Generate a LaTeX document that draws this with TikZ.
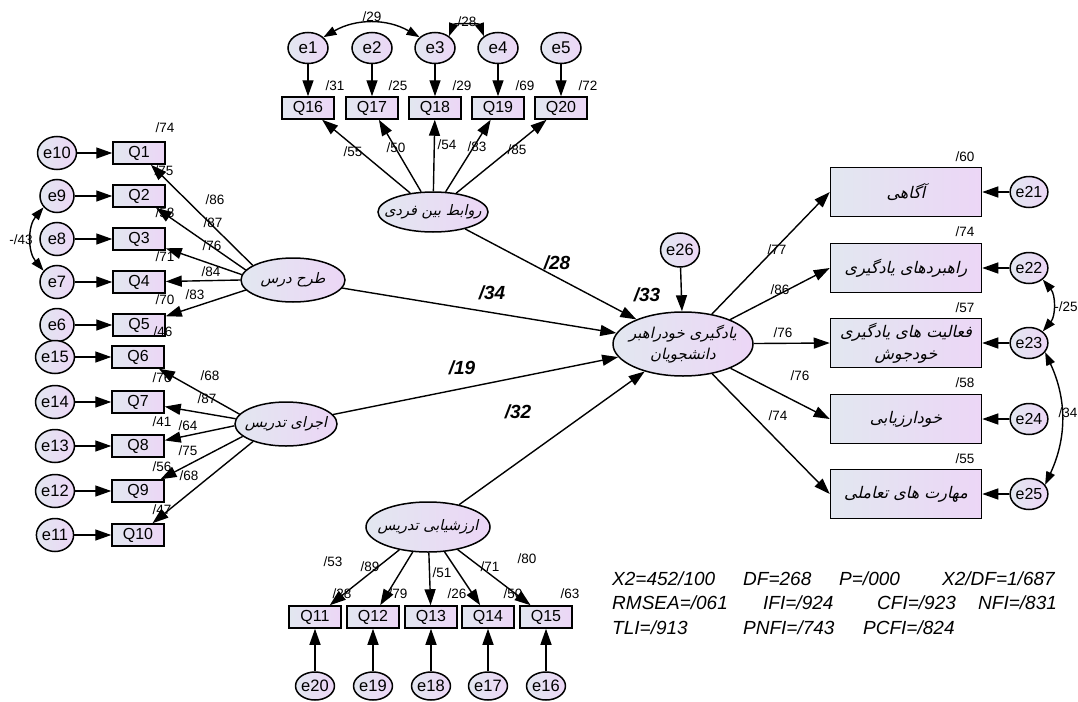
\documentclass[tikz,border=0pt]{standalone}
\usepackage{fontspec}
\setmainfont{Liberation Sans}
\newfontfamily\fa[Script=Arabic,FakeSlant=0.22]{DejaVu Sans}
\TeXXeTstate=1
\usetikzlibrary{arrows.meta,shapes.geometric}
\definecolor{gL}{RGB}{226,231,240}
\definecolor{gR}{RGB}{236,214,246}
\tikzset{
 fillg/.style={left color=gL,right color=gR},
 lat/.style={ellipse,draw,line width=1.5pt,fillg,inner xsep=-25pt,inner ysep=-12pt,font=\fa\fontsize{14.5}{20}\selectfont},
 obs/.style={rectangle,draw,line width=1.5pt,fillg,inner sep=0pt,minimum width=52pt,minimum height=22pt,font=\fontsize{16}{16}\selectfont},
 rbox/.style={rectangle,draw,line width=1.5pt,fillg,inner sep=0pt,minimum width=151pt,minimum height=49pt,font=\fa\fontsize{16}{22}\selectfont},
 err/.style={ellipse,draw,line width=1.5pt,fillg,inner sep=0pt,minimum width=34pt,minimum height=33pt,font=\fontsize{16.5}{17}\selectfont},
 arr/.style={line width=1.4pt,-{Triangle[length=16pt,width=11pt]}},
 cov/.style={line width=1.4pt,{Triangle[length=13pt,width=9pt]}-{Triangle[length=13pt,width=9pt]}},
 lab/.style={font=\fontsize{13.5}{14}\selectfont,inner sep=0pt},
 blab/.style={font=\bfseries\itshape\fontsize{19}{20}\selectfont,inner sep=0pt},
 fitlab/.style={font=\itshape\fontsize{19}{20}\selectfont,anchor=base west,inner sep=0pt},
}
\begin{document}
\begin{tikzpicture}[x=1pt,y=1pt]
\useasboundingbox (0,0) rectangle (1078,-701);

% ---------- top group
\node[lat,minimum width=110pt,minimum height=40pt] (R) at (433,-212) {\beginR روابط بین فردی\endR};
\foreach \i/\n/\x in {1/16/308,2/17/372,3/18/435,4/19/498,5/20/561}{
  \node[obs] (Q\n) at (\x,-108) {Q\n};
  \node[err,minimum width=40pt,minimum height=31pt,font=\fontsize{17}{17}\selectfont] (e\i) at (\x,-48) {e\i};
  \draw[arr] (e\i) -- (Q\n);
  \draw[arr] (R) -- (Q\n);
}
\foreach \n/\x/\t in {16/335/31,17/398/25,18/462/29,19/525/69,20/588/72}
  \node[lab] (rs\n) at (\x,-86) {/\t};
\foreach \n/\x/\y/\t in {16/353/152/55,17/396/148/50,18/447/145/54,19/477/147/83,20/517/150/85}
  \node[lab] (ld\n) at (\x,-\y) {/\t};
\draw[cov] (e1.35) to[bend left=30] (e3.145);
\node[lab] (c13) at (372,-17) {/29};
\draw[cov] (e3.40) to[bend left=70] (e4.140);
\node[lab] (c34) at (467,-22) {/28};

% ---------- left group 1
\node[lat,minimum width=104pt,minimum height=44pt] (T) at (293,-280) {\beginR طرح درس\endR};
\foreach \n/\e/\y/\a in {1/10/153/160,2/9/196/168,3/8/239/174,4/7/282/180,5/6/325/192}{
  \node[obs] (Q\n) at (139,-\y) {Q\n};
  \node[err] (e\e) at (57,-\y) {e\e};
  \draw[arr] (e\e) -- (Q\n);
  \draw[arr] (T.\a) -- (Q\n);
}
\foreach \n/\x/\y/\t in {1/165/128/74,2/164/171/75,3/165/213/58,4/165/257/71,5/165/300/70}
  \node[lab] (rs\n) at (\x,-\y) {/\t};
\foreach \n/\x/\y/\t in {1/215/200/86,2/213/223/87,3/212/246/76,4/211/272/84,5/195/295/83}
  \node[lab] (ld\n) at (\x,-\y) {/\t};
\draw[cov] (e9.220) to[bend right=40] (e7.140);
\node[lab] (c97) at (21,-240) {-/43};

% ---------- left group 2
\node[lat,minimum width=102pt,minimum height=44pt] (A) at (286,-424) {\beginR اجرای تدریس\endR};
\foreach \n/\e/\y/\a in {6/15/357/168,7/14/402/174,8/13/446/182,9/12/491/196,10/11/535/208}{
  \node[obs] (Q\n) at (138,-\y) {Q\n};
  \node[err] (e\e) at (55,-\y) {e\e};
  \draw[arr] (e\e) -- (Q\n);
  \draw[arr] (A.\a) -- (Q\n);
}
\foreach \n/\x/\y/\t in {6/163/332/46,7/162/378/76,8/162/422/41,9/162/467/56,10/162/510/47}
  \node[lab] (rs\n) at (\x,-\y) {/\t};
\foreach \n/\x/\y/\t in {6/210/376/68,7/207/399/87,8/188/426/64,9/188/451/75,10/189/476/68}
  \node[lab] (ld\n) at (\x,-\y) {/\t};

% ---------- bottom group
\node[lat,minimum width=124pt,minimum height=50pt] (E) at (428,-527) {\beginR ارزشیابی تدریس\endR};
\foreach \n/\e/\x in {11/20/315,12/19/373,13/18/431,14/17/488,15/16/546}{
  \node[obs] (Q\n) at (\x,-617) {Q\n};
  \node[err,minimum width=36pt,minimum height=28pt] (e\e) at (\x,-686) {e\e};
  \draw[arr] (e\e) -- (Q\n);
  \draw[arr] (E) -- (Q\n);
}
\foreach \n/\x/\y/\t in {11/333/562/53,12/370/567/89,13/442/573/51,14/490/567/71,15/527/559/80}
  \node[lab] (ld\n) at (\x,-\y) {/\t};
\foreach \n/\x/\t in {11/342/28,12/398/79,13/457/26,14/513/50,15/570/63}
  \node[lab] (rs\n) at (\x,-594) {/\t};

% ---------- main latent
\node[lat,minimum width=140pt,minimum height=64pt,align=center,font=\fa\fontsize{15}{21}\selectfont] (S) at (683,-344)
  {\beginR یادگیری خودراهبر\endR\\\beginR دانشجویان\endR};
\node[err,minimum width=37pt,minimum height=34pt] (e26) at (680,-250) {e26};
\draw[arr] (e26) -- (S);
\draw[arr] (R) -- (S);
\draw[arr] (T) -- (S);
\draw[arr] (A) -- (S);
\draw[arr] (E) -- (S);
\node[blab] (p33) at (647,-295) {/33};
\node[blab] (p28) at (557,-263) {/28};
\node[blab] (p34) at (492,-293) {/34};
\node[blab] (p19) at (462,-368) {/19};
\node[blab] (p32) at (518,-412) {/32};

% ---------- right boxes
\node[rbox] (B1) at (906,-192) {\beginR آگاهی\endR};
\node[rbox] (B2) at (906,-268) {\beginR راهبردهای یادگیری\endR};
\node[rbox,align=center] (B3) at (906,-343) {\beginR فعالیت های یادگیری\endR\\\beginR خودجوش\endR};
\node[rbox] (B4) at (906,-419) {\beginR خودارزیابی\endR};
\node[rbox] (B5) at (906,-494) {\beginR مهارت های تعاملی\endR};
\foreach \b/\e/\y in {1/21/192,2/22/268,3/23/343,4/24/419,5/25/494}{
  \node[err,minimum width=32pt,minimum height=31pt,font=\fontsize{16}{16}\selectfont] (e\e) at (1029,-\y) {e\e};
  \draw[arr] (e\e) -- (B\b);
  \draw[arr] (S) -- (B\b.west);
}
\foreach \b/\x/\y/\t in {1/777/250/77,2/780/290/86,3/783/333/76,4/800/376/76,5/778/416/74}
  \node[lab] (lb\b) at (\x,-\y) {/\t};
\foreach \b/\y/\t in {1/157/60,2/232/74,3/308/57,4/383/58,5/459/55}
  \node[lab] (rb\b) at (965,-\y) {/\t};
\draw[cov] (e22.-40) to[bend left=40] (e23.40);
\node[lab] (c2223) at (1066,-307) {-/25};
\draw[cov] (e23.-30) to[bend left=25] (e25.30);
\node[lab] (c2325) at (1068,-413) {/34};

% ---------- fit indices
\node[fitlab] (f1) at (612,-585) {X2=452/100};
\node[fitlab] (f2) at (743,-585) {DF=268};
\node[fitlab] (f3) at (839,-585) {P=/000};
\node[fitlab] (f4) at (942,-585) {X2/DF=1/687};
\node[fitlab] (f5) at (612,-609) {RMSEA=/061};
\node[fitlab] (f6) at (763,-609) {IFI=/924};
\node[fitlab] (f7) at (877,-609) {CFI=/923};
\node[fitlab] (f8) at (978,-609) {NFI=/831};
\node[fitlab] (f9) at (612,-634) {TLI=/913};
\node[fitlab] (f10) at (743,-634) {PNFI=/743};
\node[fitlab] (f11) at (863,-634) {PCFI=/824};
\end{tikzpicture}
\end{document}
